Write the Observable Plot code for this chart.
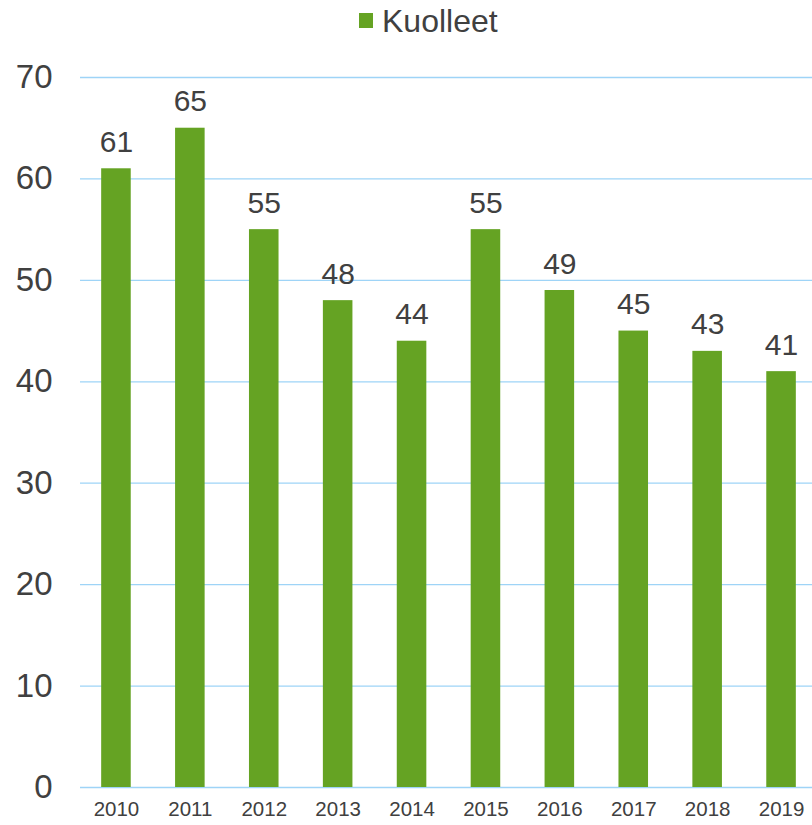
<!DOCTYPE html>
<html>
<head>
<meta charset="utf-8">
<script src="https://cdn.jsdelivr.net/npm/d3@7"></script>
<script src="https://cdn.jsdelivr.net/npm/@observablehq/plot@0.6"></script>
<style>
  body { margin: 0; background: #fff; font-family: "Liberation Sans", Arial, sans-serif; overflow: hidden; }
  #legend { height: 40px; position: relative; }
  #legend .sw { position: absolute; left: 359px; top: 13px; width: 14px; height: 15px; background: #65a323; }
  #legend .lb { position: absolute; left: 382px; top: 3px; font-size: 32px; color: #404040; line-height: 36px; }
  svg { display: block; overflow: visible; }
</style>
</head>
<body>
<div id="legend"><div class="sw"></div><div class="lb">Kuolleet</div></div>
<div id="chart"></div>
<script>
const years = ["2010","2011","2012","2013","2014","2015","2016","2017","2018","2019"];
const kuolleet = [61, 65, 55, 48, 44, 55, 49, 45, 43, 41];
const yTicks = [0, 10, 20, 30, 40, 50, 60, 70];
const seriesName = "Kuolleet";

const data = years.map((y, i) => ({year: y, value: kuolleet[i]}));

const chart = Plot.plot({
  width: 812,
  height: 785,
  marginTop: 37,
  marginBottom: 38,
  marginLeft: 80,
  marginRight: 0,
  style: {fontFamily: "'Liberation Sans', Arial, sans-serif", color: "#404040", background: "transparent", overflow: "visible"},
  x: {domain: years, range: [79, 818], paddingInner: 0.6, paddingOuter: 0.3, align: 0.5, round: false, label: null},
  y: {domain: [0, 70], ticks: yTicks, label: null},
  marks: [
    Plot.ruleY(yTicks, {stroke: "#9ed4f7", strokeWidth: 1.3}),
    Plot.barY(data, {x: "year", y: "value", fill: "#65a323"}),
    Plot.text(data, {x: "year", y: "value", text: d => String(d.value), lineAnchor: "bottom", dy: -17, fontSize: 30, fill: "#404040"}),
    Plot.axisY({ticks: yTicks, tickSize: 0, tickPadding: 28, fontSize: 33, fill: "#404040", label: null}),
    Plot.axisX({tickSize: 0, tickPadding: 14, fontSize: 20.5, fill: "#404040", label: null})
  ]
});
document.getElementById("chart").appendChild(chart);
</script>
</body>
</html>
